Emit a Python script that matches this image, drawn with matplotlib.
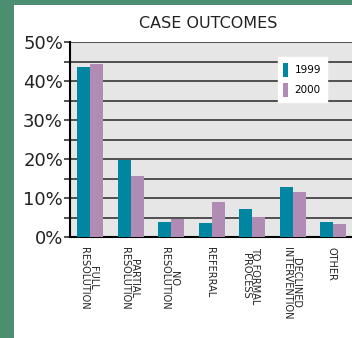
import matplotlib.pyplot as plt
import numpy as np
from matplotlib.patches import Rectangle

categories = ['FULL\nRESOLUTION', 'PARTIAL\nRESOLUTION', 'NO\nRESOLUTION', 'REFERRAL',
              'TO FORMAL\nPROCESS', 'DECLINED\nINTERVENTION', 'OTHER']
y1999 = [43.6, 19.7, 3.8, 3.6, 7.2, 12.8, 3.8]
y2000 = [44.4, 15.6, 4.6, 9.0, 5.1, 11.5, 3.3]
yticks = [0, 5, 10, 15, 20, 25, 30, 35, 40, 45, 50]
ylabels = ['0%', '', '10%', '', '20%', '', '30%', '', '40%', '', '50%']

plt.rcParams['font.family'] = ['DejaVu Sans']

W, H = 352, 338
fig = plt.figure(figsize=(W / 100, H / 100), dpi=100)
fig.patch.set_facecolor('#4b8e70')
# white panel inside the green frame
fig.patches.append(Rectangle((14 / W, 0), 1, (H - 5) / H, transform=fig.transFigure,
                             facecolor='white', edgecolor='none', zorder=-5))

ax = fig.add_axes([70 / W, (H - 237) / H, (W - 70) / W + 0.01, 195 / H])
ax.set_zorder(2)
ax.set_facecolor('#e6e6e6')

x = np.arange(len(categories))
w = 0.32
ax.bar(x - w / 2, y1999, w, color='#0086a0', label='1999', zorder=3)
ax.bar(x + w / 2, y2000, w, color='#b08cb4', label='2000', zorder=3)

ax.set_ylim(0, 50)
ax.set_xlim(-0.5, 6.55)
ax.set_yticks(yticks)
ax.set_yticklabels(ylabels, fontsize=13, color='#222222')
ax.tick_params(axis='y', length=4, width=1.2, color='#333333', pad=1)
ax.yaxis.grid(True, color='#444444', linewidth=1.3, zorder=1)
ax.set_axisbelow(True)

ax.set_xticks(x - 0.04)
ax.set_xticklabels(categories, rotation=270, fontsize=7, va='top', ha='center',
                   linespacing=0.85, color='#222222')
ax.tick_params(axis='x', length=0, pad=7)

for s in ['top', 'right']:
    ax.spines[s].set_visible(False)
ax.spines['left'].set_linewidth(1.5)
ax.spines['bottom'].set_linewidth(1.5)

leg = ax.legend(loc='upper right', bbox_to_anchor=(0.90, 0.923), borderaxespad=0,
                frameon=True, fancybox=False, edgecolor='white', framealpha=1,
                fontsize=7.5, handlelength=0.5, handleheight=1.7, borderpad=0.55,
                labelspacing=0.55, handletextpad=0.6)

fig.text(208 / W, (H - 24) / H, 'CASE OUTCOMES', ha='center', va='center',
         fontsize=11.5, color='#222222')

fig.savefig('out.png', dpi=100)
